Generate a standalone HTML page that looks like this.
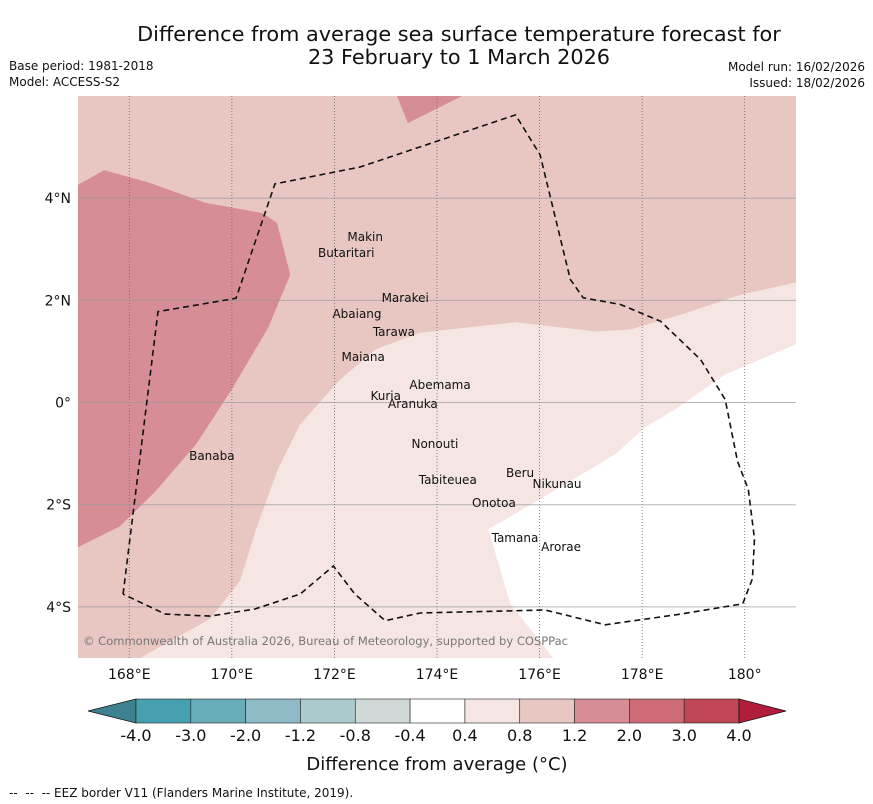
<!DOCTYPE html>
<html><head><meta charset="utf-8">
<style>
body{margin:0;background:#fff;width:873px;height:804px;overflow:hidden;font-family:"DejaVu Sans","Liberation Sans",sans-serif;}
svg{position:absolute;left:0;top:0}
</style></head>
<body>
<svg width="873" height="804">
<g id="map"></g>
<g id="over"></g>
<text x="459" y="41" text-anchor="middle" font-size="20.8" fill="#111">Difference from average sea surface temperature forecast for</text>
<text x="459" y="64" text-anchor="middle" font-size="20.8" fill="#111">23 February to 1 March 2026</text>
<text x="9" y="70" font-size="12" fill="#111">Base period: 1981-2018</text>
<text x="9" y="86" font-size="12" fill="#111">Model: ACCESS-S2</text>
<text x="865" y="71" font-size="12" text-anchor="end" fill="#111">Model run: 16/02/2026</text>
<text x="865" y="87" font-size="12" text-anchor="end" fill="#111">Issued: 18/02/2026</text>
<g id="cbar"></g>
<text x="437" y="770" text-anchor="middle" font-size="18" fill="#111">Difference from average (°C)</text>
<text x="9" y="797" font-size="12" fill="#111" xml:space="preserve">--  --  -- EEZ border V11 (Flanders Marine Institute, 2019).</text>
</svg>
<script>
const NS="http://www.w3.org/2000/svg";
const lonTicks=[168,170,172,174,176,178,180];
const lonLabels=["168°E","170°E","172°E","174°E","176°E","178°E","180°"];
const latTicks=[4,2,0,-2,-4];
const latLabels=["4°N","2°N","0°","2°S","4°S"];
const cbLevels=["-4.0","-3.0","-2.0","-1.2","-0.8","-0.4","0.4","0.8","1.2","2.0","3.0","4.0"];
const cbColors=["#46a0b0","#69acba","#8dbac5","#aacbcd","#d0d8d8","#ffffff","#f5e6e4","#e8c7c3","#d68d95","#cd6b76","#c04655"];
const regionDark=[[167,4.26],[167.51,4.55],[168.4,4.3],[169.48,3.91],[170.59,3.71],[170.88,3.52],[171.14,2.5],[170.71,1.47],[170,0.26],[169.3,-0.82],[168.5,-1.75],[167.82,-2.42],[167,-2.83]];
const regionTop=[[173.22,6],[173.43,5.47],[174.49,6]];
const regionLight=[[168.21,-5],[169.58,-4.23],[170.16,-3.49],[170.47,-2.48],[170.9,-1.3],[171.33,-0.43],[172.11,0.45],[172.8,1.04],[173.67,1.37],[175.53,1.57],[177.09,1.39],[177.77,1.43],[178.75,1.72],[179.92,2.11],[181,2.35],[181,-5]];
const regionWhite=[[175,-2.48],[176.01,-1.89],[177.48,-1.01],[178.06,-0.48],[178.65,-0.13],[179.62,0.55],[181,1.14],[181,-5],[176.27,-5],[175.43,-3.94]];
const eez=[[167.88,-3.75],[168.56,1.78],[170.08,2.04],[170.84,4.28],[172.5,4.61],[175.53,5.63],[176.01,4.85],[176.6,2.41],[176.85,2.05],[177.58,1.92],[178.36,1.59],[179.14,0.84],[179.62,0.06],[179.86,-1.15],[180.07,-1.7],[180.19,-2.67],[180.15,-3.45],[179.96,-3.94],[178.75,-4.14],[177.28,-4.35],[176.11,-4.06],[173.67,-4.12],[172.99,-4.27],[172.4,-3.75],[171.98,-3.2],[171.33,-3.75],[170.45,-4.04],[169.58,-4.18],[168.7,-4.14],[167.88,-3.75]];
const islandNames=["Makin","Butaritari","Marakei","Abaiang","Tarawa","Maiana","Abemama","Kuria","Aranuka","Nonouti","Banaba","Tabiteuea","Beru","Nikunau","Onotoa","Tamana","Arorae"];
const islandLon=[172.60,172.23,173.38,172.44,173.16,172.56,174.06,173.0,173.53,173.96,169.61,174.21,175.62,176.34,175.11,175.52,176.42];
const islandLat=[3.16,2.85,1.97,1.65,1.30,0.81,0.27,0.05,-0.11,-0.89,-1.12,-1.59,-1.46,-1.67,-2.04,-2.73,-2.91];
const x0=78,x1=796,y0=96,y1=658,lonMin=167,lonMax=181,latMax=6,latMin=-5;
const X=l=>x0+(l-lonMin)/(lonMax-lonMin)*(x1-x0);
const Y=l=>y0+(latMax-l)/(latMax-latMin)*(y1-y0);
function mk(p,tag,at){const e=document.createElementNS(NS,tag);for(const k in at)e.setAttribute(k,at[k]);p.appendChild(e);return e;}
const map=document.getElementById('map'),over=document.getElementById('over'),cb=document.getElementById('cbar');
const cp=mk(map,'clipPath',{id:'clip'});mk(cp,'rect',{x:x0,y:y0,width:x1-x0,height:y1-y0});
let bg=mk(map,'rect',{x:x0,y:y0,width:x1-x0,height:y1-y0,fill:"#e8c7c3"});


const pts=a=>a.map(p=>X(p[0]).toFixed(1)+","+Y(p[1]).toFixed(1)).join(" ");
const regs=[[regionDark,"#d68d95","anomaly-1.2-2.0-west"],[regionTop,"#d68d95","anomaly-1.2-2.0-north"],[regionLight,"#f5e6e4","anomaly-0.4-0.8"],[regionWhite,"#ffffff","anomaly-neutral"]];
regs.forEach(r=>{const e=mk(map,'polygon',{points:pts(r[0]),fill:r[1],'clip-path':'url(#clip)'});

});
lonTicks.forEach((l,i)=>{const e=mk(over,'line',{x1:X(l),x2:X(l),y1:y0,y2:y1,stroke:"#666","stroke-width":0.8,"stroke-dasharray":"1,2"});


const t=mk(over,'text',{x:X(l),y:y1+21,'text-anchor':'middle','font-size':14,fill:'#111'});t.textContent=lonLabels[i];

});
latTicks.forEach((l,i)=>{const e=mk(over,'line',{x1:x0,x2:x1,y1:Y(l),y2:Y(l),stroke:"#999","stroke-width":1,opacity:0.7});


const t=mk(over,'text',{x:x0-7,y:Y(l)+5,'text-anchor':'end','font-size':14,fill:'#111'});t.textContent=latLabels[i];

});
let ez=mk(over,'polyline',{points:pts(eez),fill:'none',stroke:'#111','stroke-width':1.6,'stroke-dasharray':'6,4'});


islandNames.forEach((n,i)=>{const t=mk(over,'text',{x:X(islandLon[i]),y:Y(islandLat[i]),'text-anchor':'middle','font-size':12,fill:'#111'});t.textContent=n;

});
let cr=mk(over,'text',{x:83,y:645,'font-size':11.5,fill:'#777',textLength:485});cr.textContent="© Commonwealth of Australia 2026, Bureau of Meteorology, supported by COSPPac";


const cbx0=136,cbx1=739,cy0=699,cy1=723,n=cbColors.length;
const cx=i=>cbx0+i*(cbx1-cbx0)/(cbLevels.length-1);
let la=mk(cb,'polygon',{points:`${cbx0},${cy0} ${cbx0},${cy1} 88,711`,fill:'#3d8290',stroke:'#111','stroke-width':0.8});


cbColors.forEach((c,i)=>{if(i>=cbLevels.length-1)return;const e=mk(cb,'rect',{x:cx(i),y:cy0,width:cx(i+1)-cx(i),height:cy1-cy0,fill:c,stroke:'#222','stroke-width':0.6});

});
let ra=mk(cb,'polygon',{points:`${cbx1},${cy0} ${cbx1},${cy1} 786,711`,fill:'#b01e3c',stroke:'#111','stroke-width':0.8});


cbLevels.forEach((v,i)=>{const t=mk(cb,'text',{x:cx(i),y:741,'text-anchor':'middle','font-size':16,fill:'#111'});t.textContent=v;

});
</script>
</body></html>
